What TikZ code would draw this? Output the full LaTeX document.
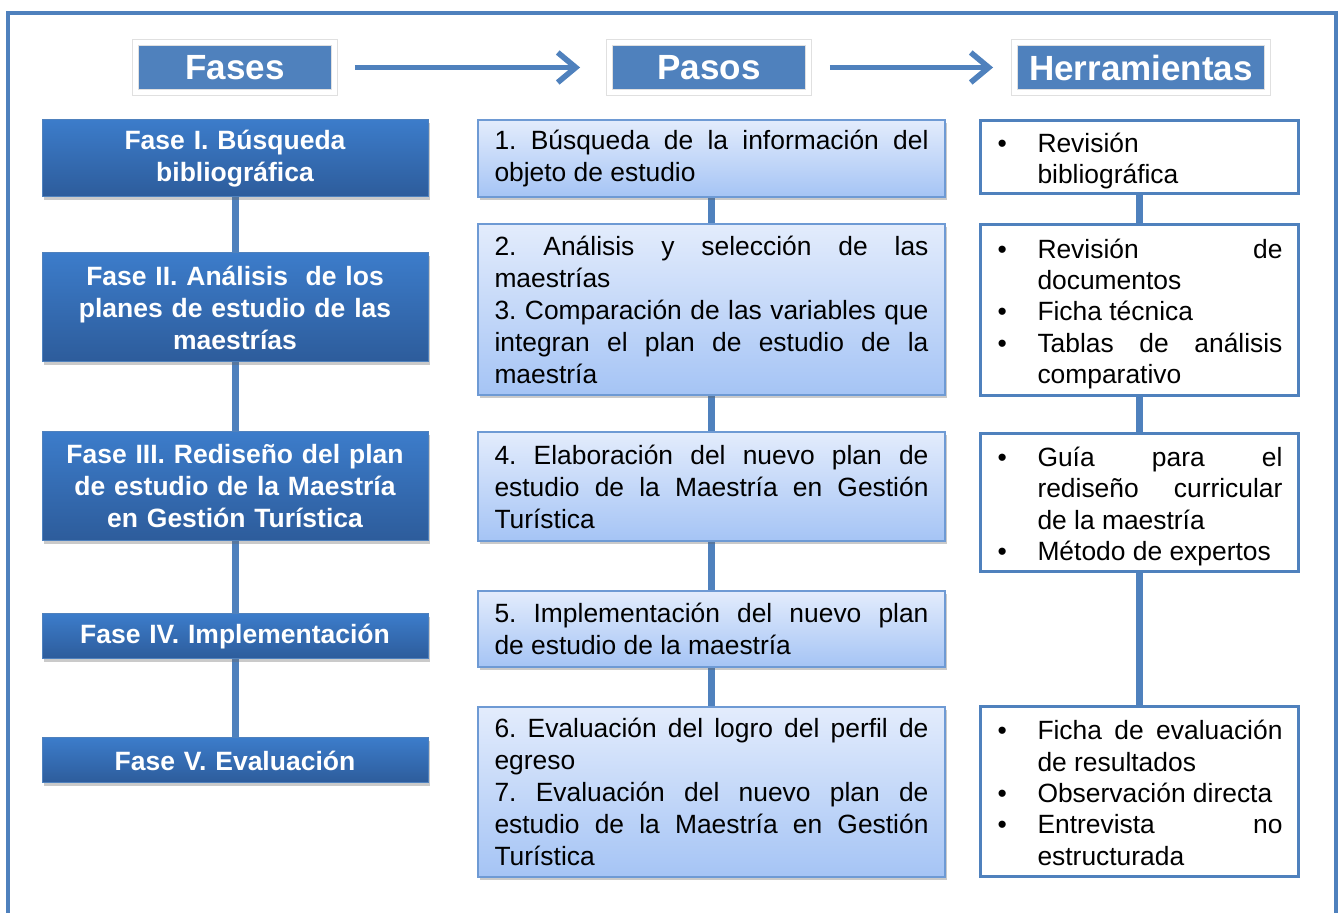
\documentclass[tikz,border=0pt]{standalone}
\usepackage{fontspec}
\setmainfont{Liberation Sans}
\usetikzlibrary{arrows.meta,shadows,backgrounds}
\definecolor{hdrblue}{HTML}{4F81BD}
\definecolor{phasetop}{HTML}{3C7CCA}
\definecolor{phasebot}{HTML}{2D5C9B}
\definecolor{pasotop}{HTML}{E3ECFC}
\definecolor{pasobot}{HTML}{A5C4F5}
\definecolor{pasoline}{HTML}{6E9AD4}
\frenchspacing
\tolerance=10000 \hbadness=10000 \hyphenpenalty=10000 \exhyphenpenalty=10000
\newcommand{\bul}[1]{\par\noindent\hangindent=20.5pt\hangafter=1\makebox[20.5pt][l]{\hspace{0.5pt}\textbullet}\strut#1\strut\par}
\begin{document}
\begin{tikzpicture}[x=0.5pt,y=-0.5pt,
  hdr/.style={fill=hdrblue,draw=black!12,double=white,double distance=2.5pt,line width=0.4pt,
    text=white,inner sep=0pt,minimum height=25pt,font=\fontsize{17.5pt}{20pt}\selectfont\bfseries,
    drop shadow={shadow xshift=1.6pt,shadow yshift=-1.8pt,opacity=0.25,fill=black!60}},
  phase/.style={top color=phasetop,bottom color=phasebot,draw=hdrblue,line width=0.5pt,
    minimum width=193pt,text width=185pt,inner xsep=4pt,inner ysep=0pt,align=center,
    text=white,font=\fontsize{13.25pt}{16pt}\selectfont\bfseries,
    drop shadow={shadow xshift=1pt,shadow yshift=-1.5pt,opacity=0.35,fill=black!60}},
  paso/.style={top color=pasotop,bottom color=pasobot,draw=pasoline,line width=0.8pt,
    minimum width=233.5pt,text width=217pt,inner xsep=8.25pt,inner ysep=0pt,align=justify,
    font=\fontsize{13.2pt}{16pt}\selectfont,
    drop shadow={shadow xshift=1pt,shadow yshift=-1.5pt,opacity=0.35,fill=black!60}},
  tool/.style={fill=white,draw=hdrblue,line width=1.5pt,minimum width=159pt,text width=143pt,
    inner xsep=8pt,inner ysep=0pt,align=justify,font=\fontsize{13.2pt}{15.7pt}\selectfont},
  link/.style={draw=hdrblue,line width=3.5pt},
  flow/.style={draw=hdrblue,line width=2.8pt,-{Straight Barb[length=9pt,width=15pt]}}]
\useasboundingbox (0,0) rectangle (1341,913);
\clip (0,0) rectangle (1341,913);
\draw[hdrblue,line width=2pt] (8,13) rectangle (1336,940);
% headers
\node[hdr,minimum width=99.5pt] (fases) at (235,67.5) {Fases};
\node[hdr,minimum width=99.5pt] (pasos) at (709,67.5) {Pasos};
\node[hdr,minimum width=126.5pt] (herr) at (1141,67.5) {Herramientas};
\draw[flow,shorten <=10pt,shorten >=14.5pt] (fases) -- (pasos);
\draw[flow,shorten <=10.5pt,shorten >=10.5pt] (pasos) -- (herr);
% fases
\node[phase,minimum height=38.5pt] (f1) at (235,158.5) {Fase I. Búsqueda\\bibliográfica};
\node[phase,minimum height=54.5pt] (f2) at (235,307.5) {Fase II. Análisis\ \ de los\\planes de estudio de las\\maestrías};
\node[phase,minimum height=54.5pt] (f3) at (235,486.5) {Fase III. Rediseño del plan\\de estudio de la Maestría\\en Gestión Turística};
\node[phase,minimum height=22.5pt] (f4) at (235,636.5) {Fase IV. Implementación};
\node[phase,minimum height=22.5pt] (f5) at (235,760.5) {Fase V. Evaluación};
% pasos
\node[paso,minimum height=38.5pt] (p1) at (711.5,158.5) {1. Búsqueda de la información del\linebreak objeto de estudio};
\node[paso,minimum height=85.5pt] (p23) at (711.5,309.5) {2. Análisis y selección de las\linebreak maestrías\par
  3. Comparación de las variables que\linebreak integran el plan de estudio de la\linebreak maestría};
\node[paso,minimum height=54.5pt] (p4) at (711.5,486.5) {4. Elaboración del nuevo plan de\linebreak estudio de la Maestría en Gestión\linebreak Turística};
\node[paso,minimum height=38pt] (p5) at (711.5,629) {5. Implementación del nuevo plan\linebreak de estudio de la maestría};
\node[paso,minimum height=85pt] (p67) at (711.5,792) {6. Evaluación del logro del perfil de\linebreak egreso\par
  7. Evaluación del nuevo plan de\linebreak estudio de la Maestría en Gestión\linebreak Turística};
% herramientas
\node[tool,minimum height=36.5pt] (h1) at (1139.5,157) {\bul{Revisión\newline bibliográfica}};
\node[tool,minimum height=85.5pt] (h2) at (1139.5,310) {\bul{Revisión de\linebreak documentos}\bul{Ficha técnica}\bul{Tablas de análisis\linebreak comparativo}};
\node[tool,minimum height=69pt] (h3) at (1139.5,502.5) {\bul{Guía para el\linebreak rediseño curricular\linebreak de la maestría}\bul{Método de expertos}};
\node[tool,minimum height=85pt] (h4) at (1139.5,791.5) {\bul{Ficha de evaluación\linebreak de resultados}\bul{Observación directa}\bul{Entrevista no\linebreak estructurada}};
\begin{scope}[on background layer]
\draw[link] (f1) -- (f2) -- (f3) -- (f4) -- (f5);
\draw[link] (p1) -- (p23) -- (p4) -- (p5) -- (p67);
\draw[link] (h1) -- (h2) -- (h3) -- (h4);
\end{scope}
\end{tikzpicture}
\end{document}
